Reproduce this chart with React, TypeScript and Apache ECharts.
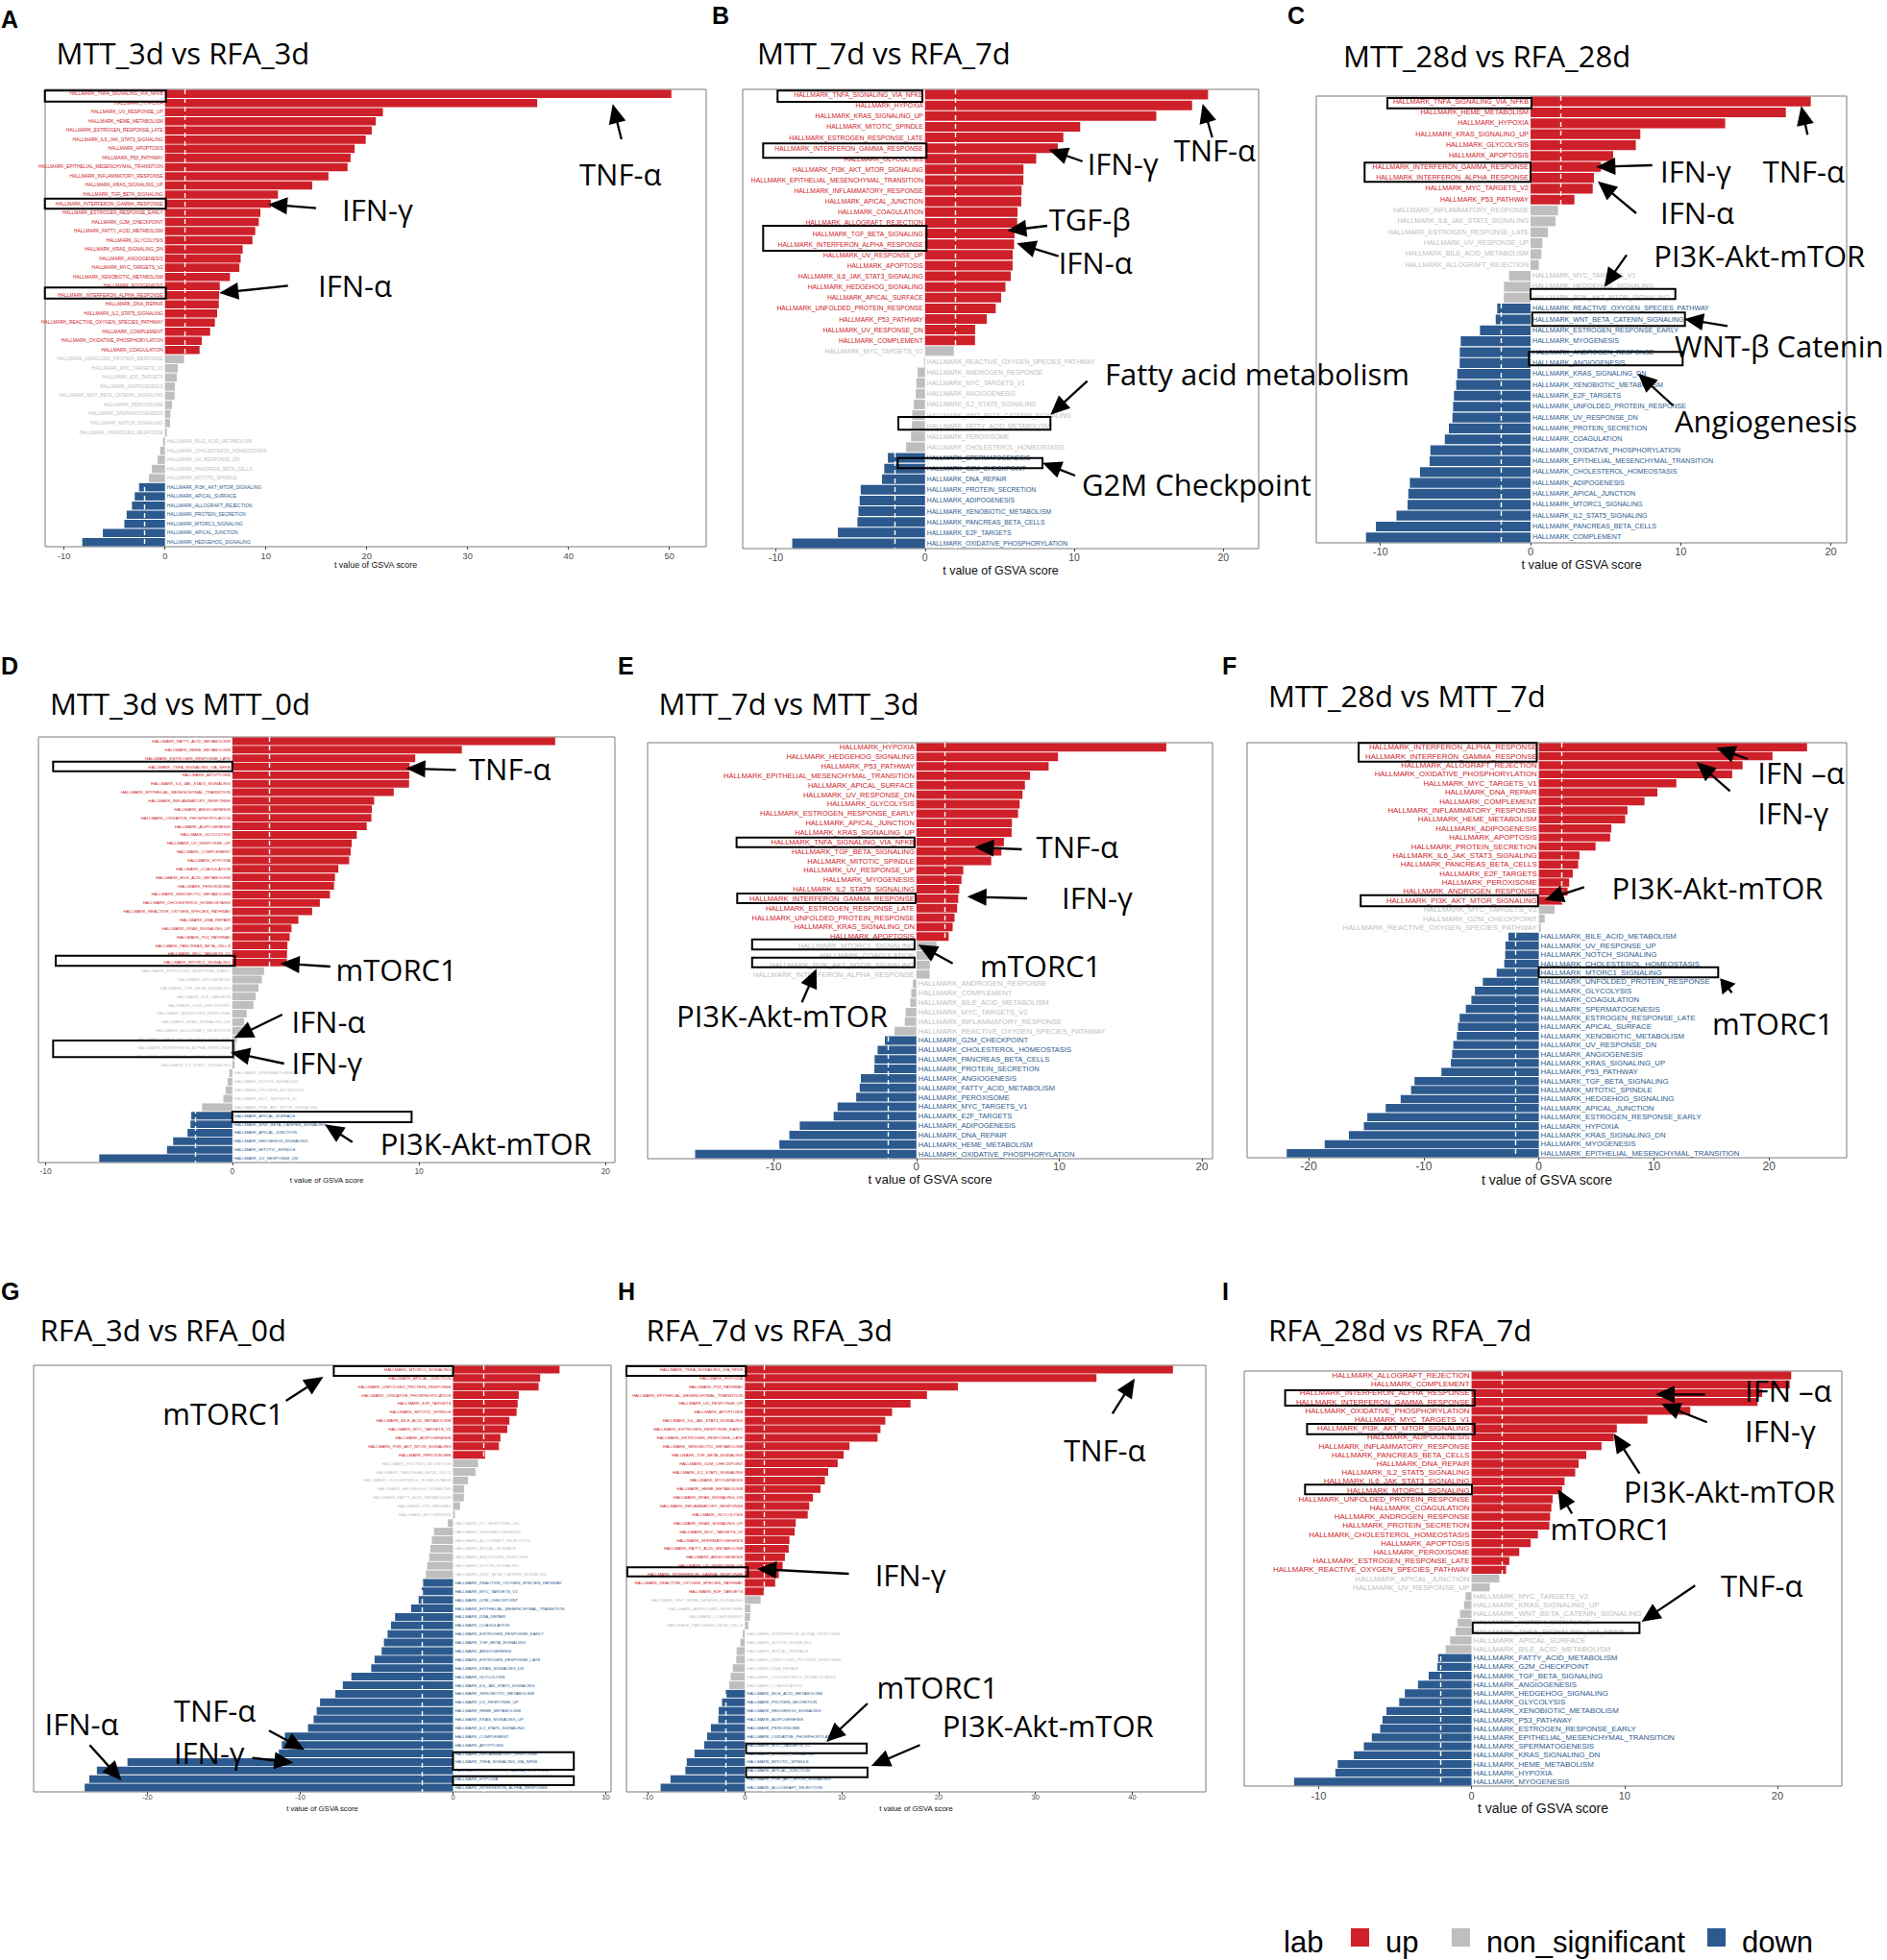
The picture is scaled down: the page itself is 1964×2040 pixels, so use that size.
import React, { useEffect, useRef } from "react";
import * as echarts from "echarts";

// ---------------- DATA ----------------
// Panel A: MTT_3d vs RFA_3d
const namesA = ["TNFA_SIGNALING_VIA_NFKB","HYPOXIA","UV_RESPONSE_UP","HEME_METABOLISM","ESTROGEN_RESPONSE_LATE","IL6_JAK_STAT3_SIGNALING","APOPTOSIS","P53_PATHWAY","EPITHELIAL_MESENCHYMAL_TRANSITION","INFLAMMATORY_RESPONSE","KRAS_SIGNALING_UP","TGF_BETA_SIGNALING","INTERFERON_GAMMA_RESPONSE","ESTROGEN_RESPONSE_EARLY","G2M_CHECKPOINT","FATTY_ACID_METABOLISM","GLYCOLYSIS","KRAS_SIGNALING_DN","ANGIOGENESIS","MYC_TARGETS_V2","XENOBIOTIC_METABOLISM","MYOGENESIS","INTERFERON_ALPHA_RESPONSE","DNA_REPAIR","IL2_STAT5_SIGNALING","REACTIVE_OXYGEN_SPECIES_PATHWAY","COMPLEMENT","OXIDATIVE_PHOSPHORYLATION","COAGULATION","UNFOLDED_PROTEIN_RESPONSE","MYC_TARGETS_V1","E2F_TARGETS","ADIPOGENESIS","WNT_BETA_CATENIN_SIGNALING","PEROXISOME","SPERMATOGENESIS","NOTCH_SIGNALING","ANDROGEN_RESPONSE","BILE_ACID_METABOLISM","CHOLESTEROL_HOMEOSTASIS","UV_RESPONSE_DN","PANCREAS_BETA_CELLS","MITOTIC_SPINDLE","PI3K_AKT_MTOR_SIGNALING","APICAL_SURFACE","ALLOGRAFT_REJECTION","PROTEIN_SECRETION","MTORC1_SIGNALING","APICAL_JUNCTION","HEDGEHOG_SIGNALING"];
const valuesA = [50.2,36.9,21.6,20.9,20.5,19.9,18.8,18.4,18.1,16.2,14.6,11.2,10.5,9.46,9.3,8.95,8.67,7.7,7.5,7.37,6.44,5.43,5.37,5.33,5.17,4.95,4.48,3.65,3.43,1.9,1.27,1.17,0.98,0.95,0.7,0.54,0.5,0.19,-0.19,-0.48,-0.73,-1.3,-1.59,-2.57,-3.0,-3.27,-3.8,-4.03,-6.16,-8.2];
const labCountsA = [29, 14, 7];
const ticksA = [-10, 0, 10, 20, 30, 40, 50];

// Panel B: MTT_7d vs RFA_7d
const namesB = ["TNFA_SIGNALING_VIA_NFKB","HYPOXIA","KRAS_SIGNALING_UP","MITOTIC_SPINDLE","ESTROGEN_RESPONSE_LATE","INTERFERON_GAMMA_RESPONSE","GLYCOLYSIS","PI3K_AKT_MTOR_SIGNALING","EPITHELIAL_MESENCHYMAL_TRANSITION","INFLAMMATORY_RESPONSE","APICAL_JUNCTION","COAGULATION","ALLOGRAFT_REJECTION","TGF_BETA_SIGNALING","INTERFERON_ALPHA_RESPONSE","UV_RESPONSE_UP","APOPTOSIS","IL6_JAK_STAT3_SIGNALING","HEDGEHOG_SIGNALING","APICAL_SURFACE","UNFOLDED_PROTEIN_RESPONSE","P53_PATHWAY","UV_RESPONSE_DN","COMPLEMENT","MYC_TARGETS_V2","REACTIVE_OXYGEN_SPECIES_PATHWAY","ANDROGEN_RESPONSE","MYC_TARGETS_V1","ANGIOGENESIS","IL2_STAT5_SIGNALING","WNT_BETA_CATENIN_SIGNALING","FATTY_ACID_METABOLISM","PEROXISOME","CHOLESTEROL_HOMEOSTASIS","SPERMATOGENESIS","G2M_CHECKPOINT","DNA_REPAIR","PROTEIN_SECRETION","ADIPOGENESIS","XENOBIOTIC_METABOLISM","PANCREAS_BETA_CELLS","E2F_TARGETS","OXIDATIVE_PHOSPHORYLATION"];
const valuesB = [18.97,17.9,15.5,10.4,9.27,8.9,7.45,6.6,6.59,6.47,6.45,6.2,6.18,6.0,5.97,5.88,5.87,5.75,5.39,5.1,4.74,4.14,3.36,3.35,1.93,-0.06,-0.49,-0.58,-0.62,-0.75,-0.86,-0.88,-0.94,-1.27,-2.49,-2.73,-2.88,-4.31,-4.38,-4.46,-4.53,-5.84,-8.9];
const labCountsB = [24, 10, 9];
const ticksB = [-10, 0, 10, 20];

// Panel C: MTT_28d vs RFA_28d
const namesC = ["TNFA_SIGNALING_VIA_NFKB","HEME_METABOLISM","HYPOXIA","KRAS_SIGNALING_UP","GLYCOLYSIS","APOPTOSIS","INTERFERON_GAMMA_RESPONSE","INTERFERON_ALPHA_RESPONSE","MYC_TARGETS_V2","P53_PATHWAY","INFLAMMATORY_RESPONSE","IL6_JAK_STAT3_SIGNALING","ESTROGEN_RESPONSE_LATE","UV_RESPONSE_UP","BILE_ACID_METABOLISM","ALLOGRAFT_REJECTION","MYC_TARGETS_V1","HEDGEHOG_SIGNALING","PI3K_AKT_MTOR_SIGNALING","REACTIVE_OXYGEN_SPECIES_PATHWAY","WNT_BETA_CATENIN_SIGNALING","ESTROGEN_RESPONSE_EARLY","MYOGENESIS","ANDROGEN_RESPONSE","ANGIOGENESIS","KRAS_SIGNALING_DN","XENOBIOTIC_METABOLISM","E2F_TARGETS","UNFOLDED_PROTEIN_RESPONSE","UV_RESPONSE_DN","PROTEIN_SECRETION","COAGULATION","OXIDATIVE_PHOSPHORYLATION","EPITHELIAL_MESENCHYMAL_TRANSITION","CHOLESTEROL_HOMEOSTASIS","ADIPOGENESIS","APICAL_JUNCTION","MTORC1_SIGNALING","IL2_STAT5_SIGNALING","PANCREAS_BETA_CELLS","COMPLEMENT"];
const valuesC = [18.66,17.0,12.96,7.31,7.01,5.5,4.69,4.22,4.14,2.92,1.83,1.66,1.15,0.79,0.72,0.55,-1.43,-1.77,-1.78,-2.22,-2.32,-3.37,-4.65,-4.71,-4.72,-4.88,-4.95,-5.1,-5.16,-5.2,-5.44,-5.71,-6.67,-6.72,-7.36,-8.04,-8.14,-8.19,-8.93,-10.3,-10.96];
const labCountsC = [10, 9, 22];
const ticksC = [-10, 0, 10, 20];

// Panel D: MTT_3d vs MTT_0d
const namesD = ["FATTY_ACID_METABOLISM","HEME_METABOLISM","ESTROGEN_RESPONSE_LATE","TNFA_SIGNALING_VIA_NFKB","APOPTOSIS","IL6_JAK_STAT3_SIGNALING","EPITHELIAL_MESENCHYMAL_TRANSITION","INFLAMMATORY_RESPONSE","ANGIOGENESIS","OXIDATIVE_PHOSPHORYLATION","ADIPOGENESIS","GLYCOLYSIS","UV_RESPONSE_UP","COMPLEMENT","HYPOXIA","COAGULATION","BILE_ACID_METABOLISM","PEROXISOME","XENOBIOTIC_METABOLISM","CHOLESTEROL_HOMEOSTASIS","REACTIVE_OXYGEN_SPECIES_PATHWAY","DNA_REPAIR","KRAS_SIGNALING_UP","P53_PATHWAY","PANCREAS_BETA_CELLS","MYC_TARGETS_V1","MTORC1_SIGNALING","ESTROGEN_RESPONSE_EARLY","MYOGENESIS","TGF_BETA_SIGNALING","E2F_TARGETS","G2M_CHECKPOINT","ANDROGEN_RESPONSE","KRAS_SIGNALING_DN","ALLOGRAFT_REJECTION","UNFOLDED_PROTEIN_RESPONSE","INTERFERON_ALPHA_RESPONSE","INTERFERON_GAMMA_RESPONSE","IL2_STAT5_SIGNALING","SPERMATOGENESIS","NOTCH_SIGNALING","PROTEIN_SECRETION","MYC_TARGETS_V2","PI3K_AKT_MTOR_SIGNALING","APICAL_SURFACE","WNT_BETA_CATENIN_SIGNALING","APICAL_JUNCTION","HEDGEHOG_SIGNALING","MITOTIC_SPINDLE","UV_RESPONSE_DN"];
const valuesD = [17.3,12.3,9.8,9.5,9.48,9.47,8.65,7.6,7.48,7.45,7.2,6.67,6.4,6.34,6.26,5.68,5.5,5.45,5.23,4.69,4.28,3.54,3.17,3.07,2.95,2.93,2.92,1.7,1.58,1.4,1.25,1.13,0.77,0.63,0.6,0.24,0.18,0.14,0.12,-0.16,-0.26,-0.36,-0.48,-1.62,-2.2,-2.24,-2.4,-3.17,-3.5,-7.13];
const labCountsD = [27, 17, 6];
const ticksD = [-10, 0, 10, 20];

// Panel E: MTT_7d vs MTT_3d
const namesE = ["HYPOXIA","HEDGEHOG_SIGNALING","P53_PATHWAY","EPITHELIAL_MESENCHYMAL_TRANSITION","APICAL_SURFACE","UV_RESPONSE_DN","GLYCOLYSIS","ESTROGEN_RESPONSE_EARLY","APICAL_JUNCTION","KRAS_SIGNALING_UP","TNFA_SIGNALING_VIA_NFKB","TGF_BETA_SIGNALING","MITOTIC_SPINDLE","UV_RESPONSE_UP","MYOGENESIS","IL2_STAT5_SIGNALING","INTERFERON_GAMMA_RESPONSE","ESTROGEN_RESPONSE_LATE","UNFOLDED_PROTEIN_RESPONSE","KRAS_SIGNALING_DN","APOPTOSIS","MTORC1_SIGNALING","COAGULATION","PI3K_AKT_MTOR_SIGNALING","INTERFERON_ALPHA_RESPONSE","ANDROGEN_RESPONSE","COMPLEMENT","BILE_ACID_METABOLISM","MYC_TARGETS_V2","INFLAMMATORY_RESPONSE","REACTIVE_OXYGEN_SPECIES_PATHWAY","G2M_CHECKPOINT","CHOLESTEROL_HOMEOSTASIS","PANCREAS_BETA_CELLS","PROTEIN_SECRETION","ANGIOGENESIS","FATTY_ACID_METABOLISM","PEROXISOME","MYC_TARGETS_V1","E2F_TARGETS","ADIPOGENESIS","DNA_REPAIR","HEME_METABOLISM","OXIDATIVE_PHOSPHORYLATION"];
const valuesE = [17.5,9.92,9.26,7.96,7.6,7.43,7.23,7.12,6.69,6.67,6.13,5.95,5.24,3.28,3.16,3.0,2.93,2.85,2.67,2.54,2.26,1.4,0.96,0.94,0.92,-0.25,-0.36,-0.43,-0.76,-0.81,-1.53,-2.21,-2.72,-2.93,-2.95,-3.89,-3.97,-4.22,-5.52,-5.8,-8.17,-8.9,-9.6,-15.5];
const labCountsE = [21, 10, 13];
const ticksE = [-10, 0, 10, 20];

// Panel F: MTT_28d vs MTT_7d
const namesF = ["INTERFERON_ALPHA_RESPONSE","INTERFERON_GAMMA_RESPONSE","ALLOGRAFT_REJECTION","OXIDATIVE_PHOSPHORYLATION","MYC_TARGETS_V1","DNA_REPAIR","COMPLEMENT","INFLAMMATORY_RESPONSE","HEME_METABOLISM","ADIPOGENESIS","APOPTOSIS","PROTEIN_SECRETION","IL6_JAK_STAT3_SIGNALING","PANCREAS_BETA_CELLS","E2F_TARGETS","PEROXISOME","ANDROGEN_RESPONSE","PI3K_AKT_MTOR_SIGNALING","MYC_TARGETS_V2","G2M_CHECKPOINT","REACTIVE_OXYGEN_SPECIES_PATHWAY","BILE_ACID_METABOLISM","UV_RESPONSE_UP","NOTCH_SIGNALING","CHOLESTEROL_HOMEOSTASIS","MTORC1_SIGNALING","UNFOLDED_PROTEIN_RESPONSE","GLYCOLYSIS","COAGULATION","SPERMATOGENESIS","ESTROGEN_RESPONSE_LATE","APICAL_SURFACE","XENOBIOTIC_METABOLISM","UV_RESPONSE_DN","ANGIOGENESIS","KRAS_SIGNALING_UP","P53_PATHWAY","TGF_BETA_SIGNALING","MITOTIC_SPINDLE","HEDGEHOG_SIGNALING","APICAL_JUNCTION","ESTROGEN_RESPONSE_EARLY","HYPOXIA","KRAS_SIGNALING_DN","MYOGENESIS","EPITHELIAL_MESENCHYMAL_TRANSITION"];
const valuesF = [23.3,20.3,17.7,16.8,11.95,10.3,9.18,7.7,7.5,6.3,6.2,4.93,3.53,3.42,2.95,2.64,2.5,2.05,1.37,0.51,0.17,-2.64,-2.9,-2.92,-3.0,-3.66,-4.86,-5.55,-5.86,-6.34,-6.88,-7.02,-7.12,-7.43,-7.53,-7.64,-8.46,-10.8,-11.1,-12.0,-13.3,-14.9,-15.2,-16.5,-18.6,-21.9];
const labCountsF = [18, 3, 25];
const ticksF = [-20, -10, 0, 10, 20];

// Panel G: RFA_3d vs RFA_0d
const namesG = ["MTORC1_SIGNALING","APICAL_JUNCTION","UNFOLDED_PROTEIN_RESPONSE","OXIDATIVE_PHOSPHORYLATION","E2F_TARGETS","MITOTIC_SPINDLE","BILE_ACID_METABOLISM","MYC_TARGETS_V1","ADIPOGENESIS","PI3K_AKT_MTOR_SIGNALING","PEROXISOME","PROTEIN_SECRETION","PANCREAS_BETA_CELLS","CHOLESTEROL_HOMEOSTASIS","HEDGEHOG_SIGNALING","FATTY_ACID_METABOLISM","P53_PATHWAY","MYOGENESIS","UV_RESPONSE_DN","SPERMATOGENESIS","ALLOGRAFT_REJECTION","APICAL_SURFACE","ANDROGEN_RESPONSE","NOTCH_SIGNALING","WNT_BETA_CATENIN_SIGNALING","REACTIVE_OXYGEN_SPECIES_PATHWAY","MYC_TARGETS_V2","G2M_CHECKPOINT","EPITHELIAL_MESENCHYMAL_TRANSITION","DNA_REPAIR","COAGULATION","ESTROGEN_RESPONSE_EARLY","TGF_BETA_SIGNALING","ANGIOGENESIS","ESTROGEN_RESPONSE_LATE","KRAS_SIGNALING_DN","GLYCOLYSIS","IL6_JAK_STAT3_SIGNALING","XENOBIOTIC_METABOLISM","UV_RESPONSE_UP","HEME_METABOLISM","KRAS_SIGNALING_UP","IL2_STAT5_SIGNALING","COMPLEMENT","APOPTOSIS","INFLAMMATORY_RESPONSE","TNFA_SIGNALING_VIA_NFKB","INTERFERON_GAMMA_RESPONSE","HYPOXIA","INTERFERON_ALPHA_RESPONSE"];
const valuesG = [6.97,5.7,5.6,4.3,4.23,4.16,3.69,3.55,3.1,3.0,2.1,1.64,1.47,0.98,0.73,0.71,0.46,0.12,-0.34,-1.25,-1.39,-1.49,-1.56,-1.69,-1.78,-1.96,-2.05,-2.25,-2.74,-3.79,-4.06,-4.28,-4.52,-4.67,-5.13,-5.35,-6.65,-7.21,-7.7,-8.7,-8.92,-9.12,-9.49,-11.0,-11.2,-11.4,-21.3,-23.3,-23.8,-24.1];
const labCountsG = [11, 14, 25];
const ticksG = [-20, -10, 0, 10];

// Panel H: RFA_7d vs RFA_3d
const namesH = ["TNFA_SIGNALING_VIA_NFKB","HYPOXIA","P53_PATHWAY","EPITHELIAL_MESENCHYMAL_TRANSITION","UV_RESPONSE_UP","APOPTOSIS","IL6_JAK_STAT3_SIGNALING","ESTROGEN_RESPONSE_EARLY","ESTROGEN_RESPONSE_LATE","XENOBIOTIC_METABOLISM","TGF_BETA_SIGNALING","G2M_CHECKPOINT","IL2_STAT5_SIGNALING","MYOGENESIS","HEME_METABOLISM","KRAS_SIGNALING_DN","INFLAMMATORY_RESPONSE","GLYCOLYSIS","KRAS_SIGNALING_UP","MYC_TARGETS_V2","SPERMATOGENESIS","FATTY_ACID_METABOLISM","ANGIOGENESIS","UV_RESPONSE_DN","INTERFERON_GAMMA_RESPONSE","REACTIVE_OXYGEN_SPECIES_PATHWAY","E2F_TARGETS","WNT_BETA_CATENIN_SIGNALING","ANDROGEN_RESPONSE","COMPLEMENT","PANCREAS_BETA_CELLS","INTERFERON_ALPHA_RESPONSE","NOTCH_SIGNALING","APICAL_SURFACE","UNFOLDED_PROTEIN_RESPONSE","DNA_REPAIR","CHOLESTEROL_HOMEOSTASIS","COAGULATION","BILE_ACID_METABOLISM","PROTEIN_SECRETION","HEDGEHOG_SIGNALING","ADIPOGENESIS","PEROXISOME","OXIDATIVE_PHOSPHORYLATION","MYC_TARGETS_V1","MTORC1_SIGNALING","MITOTIC_SPINDLE","APICAL_JUNCTION","PI3K_AKT_MTOR_SIGNALING","ALLOGRAFT_REJECTION"];
const valuesH = [44.2,36.3,22.0,18.8,17.1,15.2,14.5,14.0,13.7,10.8,10.2,9.58,8.6,8.26,7.8,7.03,6.64,6.49,5.25,5.14,4.6,4.52,4.13,3.9,3.5,3.13,1.97,1.62,0.58,0.54,0.35,-0.23,-0.46,-0.85,-0.89,-1.24,-1.47,-1.62,-1.97,-2.36,-2.7,-2.74,-3.51,-3.9,-4.2,-5.2,-6.0,-6.14,-7.68,-8.7];
const labCountsH = [27, 11, 12];
const ticksH = [-10, 0, 10, 20, 30, 40];

// Panel I: RFA_28d vs RFA_7d
const namesI = ["ALLOGRAFT_REJECTION","COMPLEMENT","INTERFERON_ALPHA_RESPONSE","INTERFERON_GAMMA_RESPONSE","OXIDATIVE_PHOSPHORYLATION","MYC_TARGETS_V1","PI3K_AKT_MTOR_SIGNALING","ADIPOGENESIS","INFLAMMATORY_RESPONSE","PANCREAS_BETA_CELLS","DNA_REPAIR","IL2_STAT5_SIGNALING","IL6_JAK_STAT3_SIGNALING","MTORC1_SIGNALING","UNFOLDED_PROTEIN_RESPONSE","COAGULATION","ANDROGEN_RESPONSE","PROTEIN_SECRETION","CHOLESTEROL_HOMEOSTASIS","APOPTOSIS","PEROXISOME","ESTROGEN_RESPONSE_LATE","REACTIVE_OXYGEN_SPECIES_PATHWAY","APICAL_JUNCTION","UV_RESPONSE_UP","MYC_TARGETS_V2","KRAS_SIGNALING_UP","WNT_BETA_CATENIN_SIGNALING","NOTCH_SIGNALING","TNFA_SIGNALING_VIA_NFKB","APICAL_SURFACE","BILE_ACID_METABOLISM","FATTY_ACID_METABOLISM","G2M_CHECKPOINT","TGF_BETA_SIGNALING","ANGIOGENESIS","HEDGEHOG_SIGNALING","GLYCOLYSIS","XENOBIOTIC_METABOLISM","P53_PATHWAY","ESTROGEN_RESPONSE_EARLY","EPITHELIAL_MESENCHYMAL_TRANSITION","SPERMATOGENESIS","KRAS_SIGNALING_DN","HEME_METABOLISM","HYPOXIA","MYOGENESIS"];
const valuesI = [20.9,20.8,19.0,18.7,14.3,11.5,9.5,9.3,8.5,7.5,7.0,6.78,6.08,5.92,5.3,5.22,5.14,5.09,4.34,3.87,3.12,2.47,2.26,1.82,1.19,-0.39,-0.49,-0.75,-0.91,-1.04,-1.4,-1.69,-2.18,-2.23,-2.8,-3.5,-4.36,-4.73,-5.56,-5.82,-5.97,-6.52,-7.04,-7.69,-8.75,-8.9,-11.6];
const labCountsI = [23, 9, 15];
const ticksI = [-10, 0, 10, 20];

const legendLabels = ["up", "non_significant", "down"];
const SIG_LINE = 2;

// ---------------- STYLE / LAYOUT ----------------
const COLORS: Record<string, string> = { up: "#CE2029", non_significant: "#BEBEBE", down: "#2C5A8E" };
const FONT_SANS = "'Liberation Sans', Arial, Helvetica, sans-serif";
const FONT_ANN = "'Open Sans', 'Noto Sans', sans-serif";

const PANEL_DATA = [
  { names: namesA, values: valuesA, labCounts: labCountsA, ticks: ticksA },
  { names: namesB, values: valuesB, labCounts: labCountsB, ticks: ticksB },
  { names: namesC, values: valuesC, labCounts: labCountsC, ticks: ticksC },
  { names: namesD, values: valuesD, labCounts: labCountsD, ticks: ticksD },
  { names: namesE, values: valuesE, labCounts: labCountsE, ticks: ticksE },
  { names: namesF, values: valuesF, labCounts: labCountsF, ticks: ticksF },
  { names: namesG, values: valuesG, labCounts: labCountsG, ticks: ticksG },
  { names: namesH, values: valuesH, labCounts: labCountsH, ticks: ticksH },
  { names: namesI, values: valuesI, labCounts: labCountsI, ticks: ticksI },
];

type Layout = {
  letter: string; title: string; frame: number[]; range: number[];
  labelSize: number; tickSize: number; tickMargin: number; nameSize: number; nameGap: number;
  letterPos: number[]; titlePos: number[];
  texts: [string, number, number][]; arrows: number[][]; boxes: number[][];
};

const LAYOUT: Layout[] = [
  { letter: "A", title: "MTT_3d vs RFA_3d", frame: [47, 93, 735, 569], range: [-11.88, 53.65],
    labelSize: 4.9, tickSize: 9.3, tickMargin: 5, nameSize: 8.9, nameGap: 14.5, letterPos: [1, 20], titlePos: [58.5, 55],
    texts: [["TNF-α", 603, 181], ["IFN-γ", 356, 218], ["IFN-α", 331, 297]],
    arrows: [[646.8, 145, 637.7, 108.3], [329, 216.7, 279, 212.7], [299.7, 297.3, 228.2, 305]],
    boxes: [[46.7, 94.3, 126, 11.4], [46.7, 206.7, 126, 10.6], [46.7, 299.3, 126, 11.4]] },
  { letter: "B", title: "MTT_7d vs RFA_7d", frame: [773, 93, 1310, 571], range: [-12.22, 22.36],
    labelSize: 6.75, tickSize: 10.5, tickMargin: 3.5, nameSize: 12.4, nameGap: 16.8, letterPos: [741, 16], titlePos: [788, 55],
    texts: [["TNF-α", 1221.7, 156], ["IFN-γ", 1131.7, 170], ["TGF-β", 1091.7, 228], ["IFN-α", 1101.7, 273], ["Fatty acid metabolism", 1150, 389], ["G2M Checkpoint", 1126, 504]],
    arrows: [[1261.7, 143, 1251.7, 108], [1126.7, 168, 1091.7, 155.7], [1090, 235, 1048.3, 240], [1101.7, 266.7, 1058.3, 253.3], [1131.6, 396.7, 1093.3, 431.7], [1119, 495, 1085, 481.7]],
    boxes: [[809.3, 94.3, 150.7, 11.7], [794.3, 149.3, 170, 15], [794.3, 235, 170, 26], [935, 434, 158.3, 13.3], [934.3, 476.7, 150.7, 10.6]] },
  { letter: "C", title: "MTT_28d vs RFA_28d", frame: [1370, 100, 1922, 565], range: [-14.27, 21.05],
    labelSize: 7.1, tickSize: 11, tickMargin: 3, nameSize: 12.9, nameGap: 15.5, letterPos: [1340, 16], titlePos: [1398, 58],
    texts: [["TNF-α", 1834.7, 178], ["IFN-γ", 1728, 178], ["IFN-α", 1728, 221], ["PI3K-Akt-mTOR", 1721.3, 265.7], ["WNT-β Catenin", 1743, 360.3], ["Angiogenesis", 1743, 438]],
    arrows: [[1881.3, 140.3, 1874.7, 110.3], [1719.7, 172, 1661.3, 173.7], [1703, 222, 1663, 188.7], [1693, 265.3, 1669.7, 298.7], [1798, 339.3, 1753, 332], [1741.3, 422, 1704.7, 388.7]],
    boxes: [[1444, 102, 150, 10.7], [1420.3, 169.3, 172.7, 20], [1593, 300.7, 150.7, 10.6], [1594.7, 325.3, 159, 14], [1591.3, 366.3, 160, 14]] },
  { letter: "D", title: "MTT_3d vs MTT_0d", frame: [40, 767, 640, 1210], range: [-10.39, 20.5],
    labelSize: 4.3, tickSize: 8.4, tickMargin: 5, nameSize: 7.9, nameGap: 14, letterPos: [1, 693], titlePos: [52, 732],
    texts: [["TNF-α", 488, 799.5], ["mTORC1", 349.5, 1008.5], ["IFN-α", 303.4, 1063], ["IFN-γ", 303.4, 1106], ["PI3K-Akt-mTOR", 395.7, 1190]],
    arrows: [[474.5, 801.3, 422.6, 799.7], [343.8, 1006, 291.8, 1002.7], [293.8, 1056, 243.8, 1080.3], [295.7, 1107, 240, 1095.3], [366.8, 1188.7, 338, 1170.3]],
    boxes: [[55.3, 792.7, 186.5, 10], [58, 994.7, 186.5, 10.6], [55.3, 1083, 187.3, 17.3], [241.8, 1157, 186.6, 11]] },
  { letter: "E", title: "MTT_7d vs MTT_3d", frame: [674, 773, 1262, 1206], range: [-18.83, 20.74],
    labelSize: 7.5, tickSize: 11.5, tickMargin: 2, nameSize: 13.3, nameGap: 14.4, letterPos: [643, 693], titlePos: [685.5, 732],
    texts: [["TNF-α", 1078.6, 881], ["IFN-γ", 1105, 934], ["mTORC1", 1020, 1005], ["PI3K-Akt-mTOR", 704, 1056.7]],
    arrows: [[1063.5, 884, 1014.3, 881.7], [1069, 935, 1006.7, 933.3], [991.6, 1002.7, 955.7, 983.3], [834.6, 1043.3, 849.8, 1008.3]],
    boxes: [[766.6, 871.7, 185.3, 10], [767.3, 930, 185.7, 10], [782.8, 977.7, 169.1, 10.6], [782.8, 996.7, 169.1, 10]] },
  { letter: "F", title: "MTT_28d vs MTT_7d", frame: [1298, 773, 1922, 1205], range: [-25.34, 26.74],
    labelSize: 7.8, tickSize: 12, tickMargin: 3, nameSize: 14, nameGap: 13, letterPos: [1272, 693], titlePos: [1320, 724],
    texts: [["IFN –α", 1829.3, 804], ["IFN-γ", 1829.3, 846], ["PI3K-Akt-mTOR", 1677.5, 924], ["mTORC1", 1782, 1065]],
    arrows: [[1819, 790, 1786.2, 778.3], [1800.6, 823.3, 1765.7, 793.3], [1648.8, 923.3, 1607.7, 936.7], [1802.6, 1033.3, 1790.3, 1018.3]],
    boxes: [[1414.1, 773.3, 185.4, 19.4], [1416.2, 931.7, 184.6, 11.6], [1601.6, 1006.7, 186.7, 10.6]] },
  { letter: "G", title: "RFA_3d vs RFA_0d", frame: [35, 1421, 636, 1865], range: [-27.44, 10.34],
    labelSize: 4.3, tickSize: 7.5, tickMargin: 1.5, nameSize: 7.7, nameGap: 13, letterPos: [1, 1344], titlePos: [41.6, 1384],
    texts: [["mTORC1", 169.2, 1470.5], ["TNF-α", 180.9, 1780], ["IFN-α", 46.6, 1794], ["IFN-γ", 180.9, 1824]],
    arrows: [[297.6, 1458, 336.5, 1433], [280, 1801.3, 317, 1821.3], [93.3, 1816.3, 126.4, 1853], [262.6, 1829.7, 305.4, 1834.7]],
    boxes: [[347.4, 1422, 124.1, 10], [471.5, 1823.7, 125.7, 18.3], [471.5, 1848.7, 125.7, 9.3]] },
  { letter: "H", title: "RFA_7d vs RFA_3d", frame: [652, 1421, 1255, 1865], range: [-12.23, 47.59],
    labelSize: 4.35, tickSize: 7.5, tickMargin: 1.5, nameSize: 7.9, nameGap: 13, letterPos: [643, 1344], titlePos: [672.5, 1384],
    texts: [["TNF-α", 1107.2, 1509], ["IFN-γ", 910.7, 1639], ["mTORC1", 912.6, 1756], ["PI3K-Akt-mTOR", 980.7, 1795.5]],
    arrows: [[1157.8, 1471.3, 1181.1, 1434.7], [883.5, 1638, 788.1, 1633], [902.9, 1773, 860.1, 1813], [957.4, 1816.3, 906.8, 1838]],
    boxes: [[652, 1422, 124.5, 10], [653, 1631.3, 125.4, 9.4], [776.5, 1814.7, 125.6, 10], [776.5, 1839.7, 126.4, 10]] },
  { letter: "I", title: "RFA_28d vs RFA_7d", frame: [1295, 1427, 1917, 1859], range: [-14.86, 24.21],
    labelSize: 7.9, tickSize: 11, tickMargin: 4.5, nameSize: 14, nameGap: 15, letterPos: [1272, 1344], titlePos: [1320, 1384],
    texts: [["IFN –α", 1816, 1447], ["IFN-γ", 1816, 1489], ["PI3K-Akt-mTOR", 1689.9, 1552], ["mTORC1", 1613.4, 1591], ["TNF-α", 1791, 1650]],
    arrows: [[1774.6, 1451.3, 1723, 1451.3], [1776.7, 1480.3, 1729.1, 1461.3], [1706.4, 1533.7, 1679.5, 1492], [1636.1, 1575.3, 1621.6, 1550.3], [1764.3, 1650.3, 1708.5, 1688]],
    boxes: [[1337.6, 1447, 197.2, 16], [1360.4, 1482, 174.4, 10.7], [1358.3, 1545.3, 173.7, 10], [1532.8, 1688.7, 173.6, 11]] },
];

// legend layout: [x of swatch, x of text]
const LEGEND_POS = { titleX: 1336, y: 2021, swatchY: 2007, swatch: 19, items: [[1406, 1442], [1511, 1547], [1777, 1813]] };

function expandLab(counts: number[]): string[] {
  const out: string[] = [];
  counts.forEach((c, k) => { for (let j = 0; j < c; j++) out.push(legendLabels[k]); });
  return out;
}

function textEl(text: string, x: number, y: number, size: number, family: string, weight: string = "normal") {
  return {
    type: "text", x, y, z: 100, silent: true,
    style: { text, fontSize: size, fontFamily: family, fontWeight: weight, fill: "#000",
      align: "left", textAlign: "left", verticalAlign: "middle", textVerticalAlign: "middle" },
  };
}

function arrowEls(a: number[]) {
  const [tx, ty, px, py] = a;
  const dx = px - tx, dy = py - ty;
  const L = Math.hypot(dx, dy) || 1;
  const ux = dx / L, uy = dy / L;
  const hl = Math.min(20, L * 0.75), hw = 9;
  const bx = px - ux * hl, by = py - uy * hl;
  return [
    { type: "polyline", z: 100, silent: true, shape: { points: [[tx, ty], [bx + ux * 1, by + uy * 1]] }, style: { stroke: "#000", lineWidth: 2.3, fill: null } },
    { type: "polygon", z: 100, silent: true, shape: { points: [[px, py], [bx - uy * hw, by + ux * hw], [bx + uy * hw, by - ux * hw]] }, style: { fill: "#000" } },
  ];
}

function buildOption() {
  const grid: any[] = [], xAxis: any[] = [], yAxis: any[] = [], series: any[] = [], elements: any[] = [];
  PANEL_DATA.forEach((d, i) => {
    const L = LAYOUT[i];
    const [x0, y0, x1, y1] = L.frame;
    const cats = d.names.map((n) => "HALLMARK_" + n);
    const lab = expandLab(d.labCounts);
    grid.push({ left: x0, top: y0, width: x1 - x0, height: y1 - y0, show: true, borderColor: "#7a7a7a", borderWidth: 1, backgroundColor: "transparent" });
    xAxis.push({
      type: "value", gridIndex: i, min: L.range[0], max: L.range[1],
      splitLine: { show: false }, axisLine: { show: false },
      axisTick: { show: true, length: 3, lineStyle: { color: "#444", width: 1 }, customValues: d.ticks },
      axisLabel: { customValues: d.ticks, fontSize: L.tickSize, color: "#4D4D4D", margin: L.tickMargin, fontFamily: FONT_SANS },
      name: "t value of GSVA score", nameLocation: "middle", nameGap: L.nameGap,
      nameTextStyle: { fontSize: L.nameSize, color: "#111", fontFamily: FONT_SANS },
    });
    yAxis.push({
      type: "category", gridIndex: i, data: cats, inverse: true,
      axisLine: { show: false }, axisTick: { show: false }, axisLabel: { show: false }, splitLine: { show: false },
    });
    series.push({
      type: "bar", name: "bars" + L.letter, xAxisIndex: i, yAxisIndex: i, z: 2, silent: true,
      barCategoryGap: "10%", barGap: "-100%",
      data: d.values.map((v, j) => ({ value: v, itemStyle: { color: COLORS[lab[j]] } })),
      markLine: {
        silent: true, symbol: ["none", "none"], label: { show: false },
        lineStyle: { color: "#ffffff", type: [5, 4], width: 1.4, opacity: 1 },
        emphasis: { disabled: true },
        data: [{ xAxis: SIG_LINE }, { xAxis: -SIG_LINE }],
      },
    });
    series.push({
      type: "bar", name: "labels" + L.letter, xAxisIndex: i, yAxisIndex: i, z: 6, silent: true,
      barCategoryGap: "10%", barGap: "-100%",
      itemStyle: { color: "rgba(0,0,0,0)" },
      emphasis: { disabled: true },
      label: { show: true, formatter: "{b}", distance: 2, fontSize: L.labelSize, fontFamily: FONT_SANS },
      data: d.values.map((v, j) => ({
        value: v,
        label: { position: v >= 0 ? "left" : "right", color: COLORS[lab[j]] },
      })),
    });

    // panel letter, title, annotations
    elements.push(textEl(L.letter, L.letterPos[0], L.letterPos[1], 25, FONT_SANS, "bold"));
    elements.push(textEl(L.title, L.titlePos[0], L.titlePos[1], 31, FONT_ANN));
    L.texts.forEach((t) => elements.push(textEl(t[0], t[1], t[2], 31, FONT_ANN)));
    L.boxes.forEach((b) => elements.push({
      type: "rect", z: 100, silent: true, shape: { x: b[0], y: b[1], width: b[2], height: b[3] },
      style: { fill: null, stroke: "#000", lineWidth: 2 },
    }));
    L.arrows.forEach((a) => arrowEls(a).forEach((e) => elements.push(e)));
  });

  // legend (lab)
  elements.push(textEl("lab", LEGEND_POS.titleX, LEGEND_POS.y, 31, FONT_SANS));
  legendLabels.forEach((name, k) => {
    const [sx, tx] = LEGEND_POS.items[k];
    elements.push({ type: "rect", z: 100, silent: true, shape: { x: sx, y: LEGEND_POS.swatchY, width: LEGEND_POS.swatch, height: LEGEND_POS.swatch }, style: { fill: COLORS[name] } });
    elements.push(textEl(name, tx, LEGEND_POS.y, 31, FONT_SANS));
  });

  return {
    animation: false,
    backgroundColor: "#ffffff",
    grid, xAxis, yAxis, series,
    graphic: { elements },
  };
}

export default function App() {
  const ref = useRef<HTMLDivElement>(null);
  useEffect(() => {
    document.body.style.margin = "0";
    const chart = echarts.init(ref.current as HTMLDivElement, null, { renderer: "svg" });
    chart.setOption(buildOption() as any);
    return () => chart.dispose();
  }, []);
  return <div ref={ref} style={{ position: "absolute", left: 0, top: 0, width: 1964, height: 2040, background: "#fff" }} />;
}
